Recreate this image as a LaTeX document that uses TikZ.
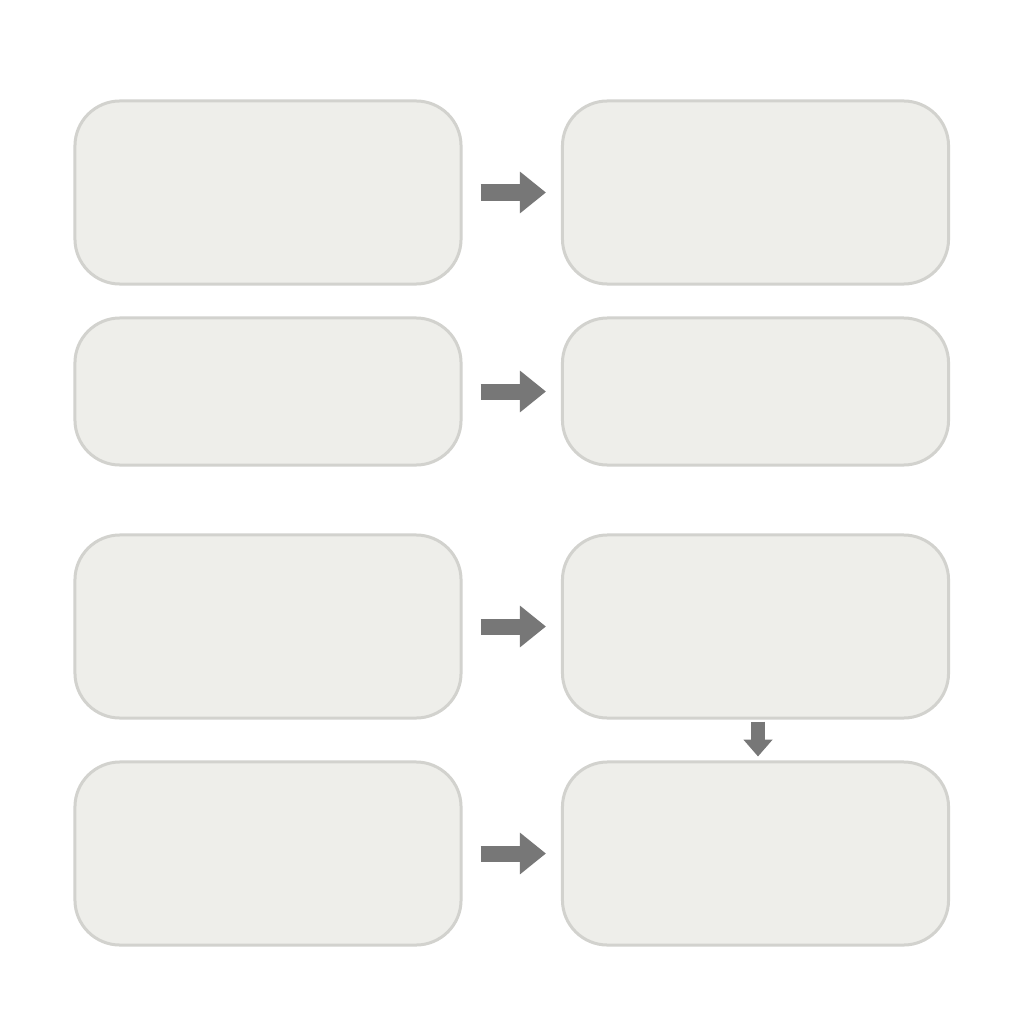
\documentclass[tikz,border=0pt]{standalone}
\usetikzlibrary{arrows.meta}
\definecolor{boxfill}{HTML}{EEEEEA}
\definecolor{boxline}{HTML}{D2D2CE}
\definecolor{arrowgray}{HTML}{777777}
\begin{document}
\begin{tikzpicture}[x=0.025cm,y=-0.025cm,
  card/.style={draw=boxline,fill=boxfill,line width=0.075cm,rounded corners=1.125cm,
    inner sep=0pt,minimum width=9.65cm},
  tall/.style={card,minimum height=4.575cm},
  short/.style={card,minimum height=3.675cm},
  flow/.style={draw=arrowgray,line width=0.4cm,line cap=butt,
    -{Triangle[width=1cm,length=0.65cm]},shorten <=0.45cm,shorten >=0.375cm},
  downflow/.style={draw=arrowgray,line width=0.36cm,line cap=butt,
    -{Triangle[width=0.7cm,length=0.42cm]},shorten <=0.05cm,shorten >=0.1cm}]
\fill[white] (0,0) rectangle (1024,1024);
\useasboundingbox (0,0) rectangle (1024,1024);
\node[tall]  (a1) at (268,192.5) {};
\node[tall]  (b1) at (755.5,192.5) {};
\node[short] (a2) at (268,391.5) {};
\node[short] (b2) at (755.5,391.5) {};
\node[tall]  (a3) at (268,626.5) {};
\node[tall]  (b3) at (755.5,626.5) {};
\node[tall]  (a4) at (268,853.5) {};
\node[tall]  (b4) at (755.5,853.5) {};
\draw[flow] (a1) -- (b1);
\draw[flow] (a2) -- (b2);
\draw[flow] (a3) -- (b3);
\draw[flow] (a4) -- (b4);
\coordinate (d1) at ([xshift=0.0625cm]b3.south);
\coordinate (d2) at ([xshift=0.0625cm]b4.north);
\draw[downflow] (d1) -- (d2);
\end{tikzpicture}
\end{document}
